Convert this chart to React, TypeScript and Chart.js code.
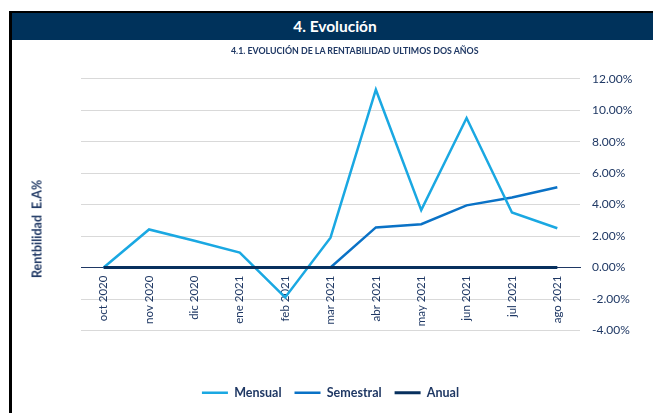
import React, { useEffect, useRef } from 'react';
import { Chart, registerables } from 'chart.js';

Chart.register(...registerables);

const categories = ['oct 2020', 'nov 2020', 'dic 2020', 'ene 2021', 'feb 2021', 'mar 2021', 'abr 2021', 'may 2021', 'jun 2021', 'jul 2021', 'ago 2021'];
const mensual = [0, 2.42, 1.7, 0.95, -1.9, 1.9, 11.3, 3.65, 9.5, 3.5, 2.5];
const semestral = [0, 0, 0, 0, 0, 0, 2.55, 2.75, 3.95, 4.45, 5.1];
const anual = [0, 0, 0, 0, 0, 0, 0, 0, 0, 0, 0];
const seriesNames = ['Mensual', 'Semestral', 'Anual'];
const yMin = -4;
const yMax = 12;
const yStep = 2;

const FONT = 'Lato, "Open Sans", sans-serif';
const NAVY = '#1F3864';
const BAND = '#00325B';
const C_MENSUAL = '#1AA8E2';
const C_SEMESTRAL = '#0A72C6';
const C_ANUAL = '#07305E';

export default function App() {
  const canvasRef = useRef<HTMLCanvasElement | null>(null);

  useEffect(() => {
    if (!canvasRef.current) return;
    const mk = (label: string, data: number[], color: string, width: number, order: number) => ({
      label,
      data,
      borderColor: color,
      backgroundColor: color,
      borderWidth: width,
      pointBorderWidth: width,
      pointBorderColor: color,
      pointRadius: 0,
      pointHoverRadius: 0,
      tension: 0,
      fill: false,
      order,
    });
    const chart = new Chart(canvasRef.current, {
      type: 'line',
      data: {
        labels: categories,
        datasets: [
          mk(seriesNames[0], mensual, C_MENSUAL, 2.5, 1),
          mk(seriesNames[1], semestral, C_SEMESTRAL, 2.5, 2),
          mk(seriesNames[2], anual, C_ANUAL, 3, 0),
        ],
      },
      options: {
        animation: false,
        responsive: false,
        events: [],
        layout: { padding: { top: 38.7, left: 69, right: 0, bottom: 4 } },
        scales: {
          x: {
            position: { y: 0 } as any,
            offset: true,
            grid: { display: false, drawTicks: false },
            border: { display: true, color: NAVY, width: 1 },
            ticks: {
              autoSkip: false,
              minRotation: 90,
              maxRotation: 90,
              padding: 8,
              color: NAVY,
              font: { family: FONT, size: 11.5 },
            },
          },
          y: {
            position: 'right',
            min: yMin,
            max: yMax,
            afterFit: (s: any) => { s.width = 73; },
            grid: { color: '#D9D9D9', lineWidth: 1, drawTicks: false },
            border: { display: false },
            ticks: {
              stepSize: yStep,
              padding: 12,
              color: NAVY,
              font: { family: FONT, size: 12 },
              callback: (v: any) => Number(v).toFixed(2) + '%',
            },
          },
        },
        plugins: {
          tooltip: { enabled: false },
          title: { display: false },
          legend: {
            position: 'bottom',
            fullSize: false,
            title: { display: true, text: '', padding: { top: 31, bottom: 0 }, font: { size: 10 } },
            labels: {
              usePointStyle: true,
              pointStyle: 'line',
              pointStyleWidth: 26,
              padding: 13,
              color: NAVY,
              font: { family: FONT, size: 12.5, weight: 'bold' },
              sort: (a: any, b: any) => a.datasetIndex - b.datasetIndex,
            },
          },
        },
      } as any,
    });
    return () => chart.destroy();
  }, []);

  return (
    <div
      style={{
        position: 'absolute',
        left: 9,
        top: 11,
        width: 644,
        height: 402,
        boxSizing: 'border-box',
        borderTop: '2px solid #000',
        borderLeft: '3px solid #000',
        background: '#fff',
        fontFamily: FONT,
        overflow: 'hidden',
      }}
    >
      <div
        style={{
          height: 27,
          background: BAND,
          color: '#fff',
          fontWeight: 700,
          fontSize: 15.5,
          lineHeight: '27px',
          textAlign: 'center',
          paddingLeft: 5,
        }}
      >
        4. Evolución
      </div>
      <canvas ref={canvasRef} width={641} height={373} style={{ position: 'absolute', left: 0, top: 27, width: 641, height: 373 }} />
      <div
        style={{
          position: 'absolute',
          left: 219,
          top: 33,
          height: 10,
          lineHeight: '10px',
          fontSize: 8.8,
          fontWeight: 700,
          color: NAVY,
          whiteSpace: 'nowrap',
        }}
      >
        4.1. EVOLUCIÓN DE LA RENTABILIDAD ULTIMOS DOS AÑOS
      </div>
      <div
        style={{
          position: 'absolute',
          left: 25,
          top: 216,
          transform: 'translate(-50%, -50%) rotate(-90deg)',
          fontSize: 12.5,
          fontWeight: 700,
          color: NAVY,
          whiteSpace: 'pre',
        }}
      >
        {'Rentbilidad  E.A%'}
      </div>
    </div>
  );
}
